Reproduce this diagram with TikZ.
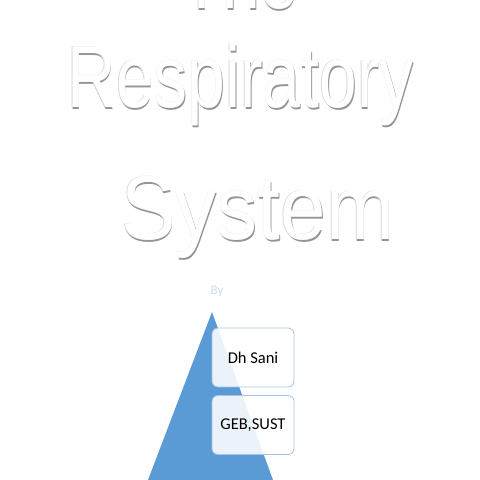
\documentclass[tikz,border=0pt]{standalone}
\usepackage{fontspec}
\setmainfont{Liberation Sans}
\newfontfamily\calib{Carlito}
\usepackage{graphicx}
\definecolor{triblue}{HTML}{5B9BD5}
\definecolor{boxline}{HTML}{A3C4E6}
\definecolor{bylight}{HTML}{C9DBF0}
\begin{document}
\begin{tikzpicture}[x=1pt,y=1pt,
  word/.style={inner sep=0pt, anchor=base west},
  shadowdark/.style={word, text=black!42},
  shadowlight/.style={word, text=black!14},
  wordface/.style={word, text=white},
  infobox/.style={draw=boxline, line width=0.8pt, fill=white, fill opacity=0.88, text opacity=1,
     rounded corners=6pt, minimum width=82pt, minimum height=59pt, inner sep=0pt,
     font=\calib\fontsize{16.5}{18}\selectfont, text=black}]
\useasboundingbox (0,0) rectangle (480,480);
\clip (0,0) rectangle (480,480);
\fill[white] (0,0) rectangle (480,480);
% Title words (embossed look)
\newcommand{\wThe}{\scalebox{0.77}[1]{\fontsize{88}{88}\selectfont The}}
\newcommand{\wResp}{\scalebox{0.77}[1]{\fontsize{88}{88}\selectfont Respiratory}}
\newcommand{\wSys}{\scalebox{0.90}[1]{\fontsize{91}{91}\selectfont System}}
\node[shadowdark] (the-d) at (181.7,469.5) {\wThe};
\node[shadowlight] (the-l) at (180.5,471.6) {\wThe};
\node[wordface] (the) at (181,471) {\wThe};
\node[shadowdark] (resp-d) at (67.7,370.5) {\wResp};
\node[shadowlight] (resp-l) at (66.5,372.6) {\wResp};
\node[wordface] (resp) at (67,372) {\wResp};
\node[shadowdark] (sys-d) at (121.7,238.5) {\wSys};
\node[shadowlight] (sys-l) at (120.5,240.6) {\wSys};
\node[wordface] (sys) at (121,240) {\wSys};
% By
\node[text=bylight, font=\calib\fontsize{13}{14}\selectfont, inner sep=0pt] (by) at (217,189) {By};
% Triangle
\fill[triblue] (212,168) coordinate (apex) -- (273,0) coordinate (br) -- (148,0) coordinate (bl) -- cycle;
% Boxes
\node[infobox] (b1) at (253,122.5) {Dh Sani};
\node[infobox] (b2) at (253,55) {GEB,SUST};
\end{tikzpicture}
\end{document}
